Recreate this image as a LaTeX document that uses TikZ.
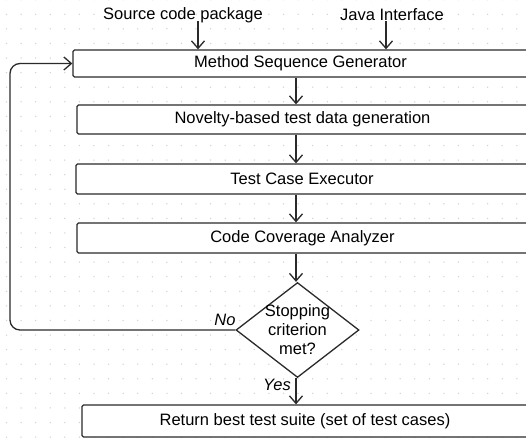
\documentclass[tikz,border=0pt]{standalone}
\usepackage{fontspec}
\setmainfont{Liberation Sans}
\usetikzlibrary{arrows.meta,shapes.geometric,calc}
\definecolor{dotc}{HTML}{D2D2D2}
\definecolor{linec}{HTML}{2A2A2A}
\newcommand{\bodysize}{\fontsize{16.5}{19}\selectfont}
\tikzset{
  box/.style={draw=linec, fill=white, line width=1.3pt, rounded corners=1.5pt, inner sep=0pt},
  arr/.style={draw=linec, line width=1.3pt, -{Straight Barb[length=7.5pt,width=13pt,line width=1.3pt]}},
  lbl/.style={inner sep=0pt, font=\bodysize\itshape},
  txt/.style={inner sep=0pt}
}
\begin{document}
\begin{tikzpicture}[x=1pt,y=-1pt,font=\bodysize]
\path[use as bounding box, clip] (0,0) rectangle (526,439);
\fill[white] (0,0) rectangle (526,439);
\foreach \i in {0,...,36}{
  \foreach \j in {0,...,30}{
    \fill[dotc] (6.5+14.58*\i, -0.3+14.58*\j) circle (0.75pt);
  }
}
% inputs
\node[txt] (src) at (183,15) {Source code package};
\node[txt] (jav) at (392,15) {Java Interface};
% boxes
\node[box, minimum width=455pt, minimum height=27pt] (msg) at (300.5,63.5) {Method Sequence Generator};
\node[box, minimum width=451pt, minimum height=29pt] (nov) at (302.5,119.5) {Novelty-based test data generation};
\node[box, minimum width=452pt, minimum height=30pt] (tce) at (302,179) {Test Case Executor};
\node[box, minimum width=451pt, minimum height=30pt] (cca) at (302.5,238) {Code Coverage Analyzer};
\node[box, diamond, rounded corners=0pt, minimum width=123pt, minimum height=95pt,
      label={[txt, align=center]center:{Stopping\\criterion\\met?}}] (dec) at (297.5,330) {};
\node[box, minimum width=446pt, minimum height=32pt] (ret) at (305,421) {Return best test suite (set of test cases)};
% connectors
\coordinate (srcin) at (198,21);
\coordinate (javin) at (386,21);
\coordinate (col) at (296,0);
\coordinate (lp) at (10,0);
\draw[arr] (srcin) -- (srcin |- msg.north);
\draw[arr] (javin) -- (javin |- msg.north);
\draw[arr] (col |- msg.south) -- (col |- nov.north);
\draw[arr] (col |- nov.south) -- (col |- tce.north);
\draw[arr] (col |- tce.south) -- (col |- cca.north);
\draw[arr] (col |- cca.south) -- (col |- dec.north);
\draw[arr] (col |- dec.south) -- (col |- ret.north);
\draw[arr, rounded corners=10pt] (dec.west) -- (lp |- dec.west) -- (lp |- msg.west) -- (msg.west);
\node[lbl] (no) at (225,320) {No};
\node[lbl] (yes) at (277,385) {Yes};
\end{tikzpicture}
\end{document}
